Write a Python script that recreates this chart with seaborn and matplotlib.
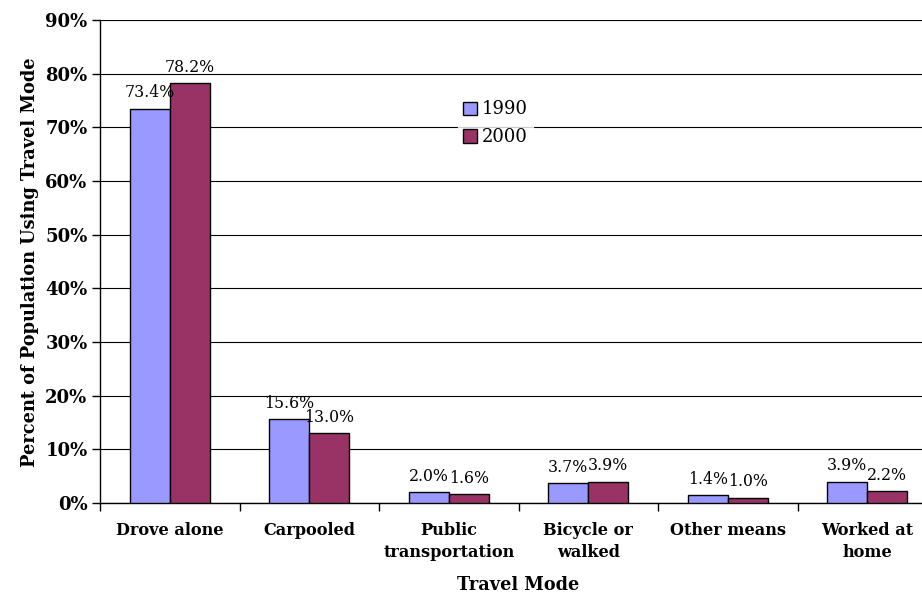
import seaborn as sns
import matplotlib.pyplot as plt
import pandas as pd
import numpy as np
from matplotlib.ticker import FixedLocator, FuncFormatter

modes = ["Drove alone", "Carpooled", "Public\ntransportation", "Bicycle or\nwalked",
         "Other means", "Worked at\nhome"]
years = ["1990", "2000"]
pct_1990 = [73.4, 15.6, 2.0, 3.7, 1.4, 3.9]
pct_2000 = [78.2, 13.0, 1.6, 3.9, 1.0, 2.2]
colors = ["#9999FF", "#993366"]

df = pd.DataFrame({
    "mode": modes * 2,
    "year": [years[0]] * len(modes) + [years[1]] * len(modes),
    "pct": pct_1990 + pct_2000,
})

sns.set_style("white")
plt.rcParams["font.family"] = ["DejaVu Serif"]
plt.rcParams["text.color"] = "black"
plt.rcParams["xtick.color"] = "black"
plt.rcParams["ytick.color"] = "black"

fig = plt.figure(figsize=(9.22, 5.94), dpi=100)
ax = fig.add_axes([100 / 922, 91 / 594, 837 / 922, 483 / 594])

sns.barplot(data=df, x="mode", y="pct", hue="year", palette=colors, width=0.575,
            saturation=1, edgecolor="black", linewidth=1, ax=ax, zorder=3)

for c in ax.containers:
    ax.bar_label(c, fmt="%.1f%%", padding=5.5, fontsize=11.3, color="black")

ax.set_ylim(0, 90)
ax.set_xlim(-0.5, 5.5)
ax.set_yticks(np.arange(0, 91, 10))
ax.yaxis.set_major_formatter(FuncFormatter(lambda v, p: f"{v:.0f}%"))
ax.grid(axis="y", color="black", linewidth=0.8, zorder=0)
ax.set_axisbelow(True)

for s in ["top", "right"]:
    ax.spines[s].set_visible(False)
for s in ["left", "bottom"]:
    ax.spines[s].set_color("black")
    ax.spines[s].set_linewidth(1)

ax.tick_params(axis="y", which="major", direction="out", length=6, width=1,
               left=True, labelsize=13, pad=3)
ax.tick_params(axis="x", which="major", length=0, labelsize=11.6, pad=14)
ax.xaxis.set_minor_locator(FixedLocator(np.arange(-0.5, 6, 1)))
ax.tick_params(axis="x", which="minor", direction="out", length=6, width=1,
               bottom=True)
for lab in ax.get_xticklabels() + ax.get_yticklabels():
    lab.set_fontweight("bold")
for lab in ax.get_xticklabels():
    lab.set_linespacing(1.35)

ax.set_xlabel("")
ax.set_ylabel("")
fig.text(518 / 922, 1 - 585 / 594, "Travel Mode", ha="center", va="center",
         fontsize=12.7, fontweight="bold")
fig.text(30 / 922, 1 - 262 / 594, "Percent of Population Using Travel Mode",
         ha="center", va="center", rotation=90, fontsize=12.8, fontweight="bold")

ax.legend_.remove()
handles = [plt.Rectangle((0, 0), 1, 1, facecolor=c, edgecolor="black", lw=1)
           for c in colors]
leg = fig.legend(handles, years, loc="upper left",
                 bbox_to_anchor=(449 / 922, 1 - 86 / 594), fontsize=13,
                 frameon=True, fancybox=False, handlelength=0.75, handleheight=0.75,
                 handletextpad=0.25, labelspacing=0.55, borderpad=0.3)
leg.get_frame().set_facecolor("white")
leg.get_frame().set_edgecolor("white")

fig.savefig("out.png", dpi=100)
